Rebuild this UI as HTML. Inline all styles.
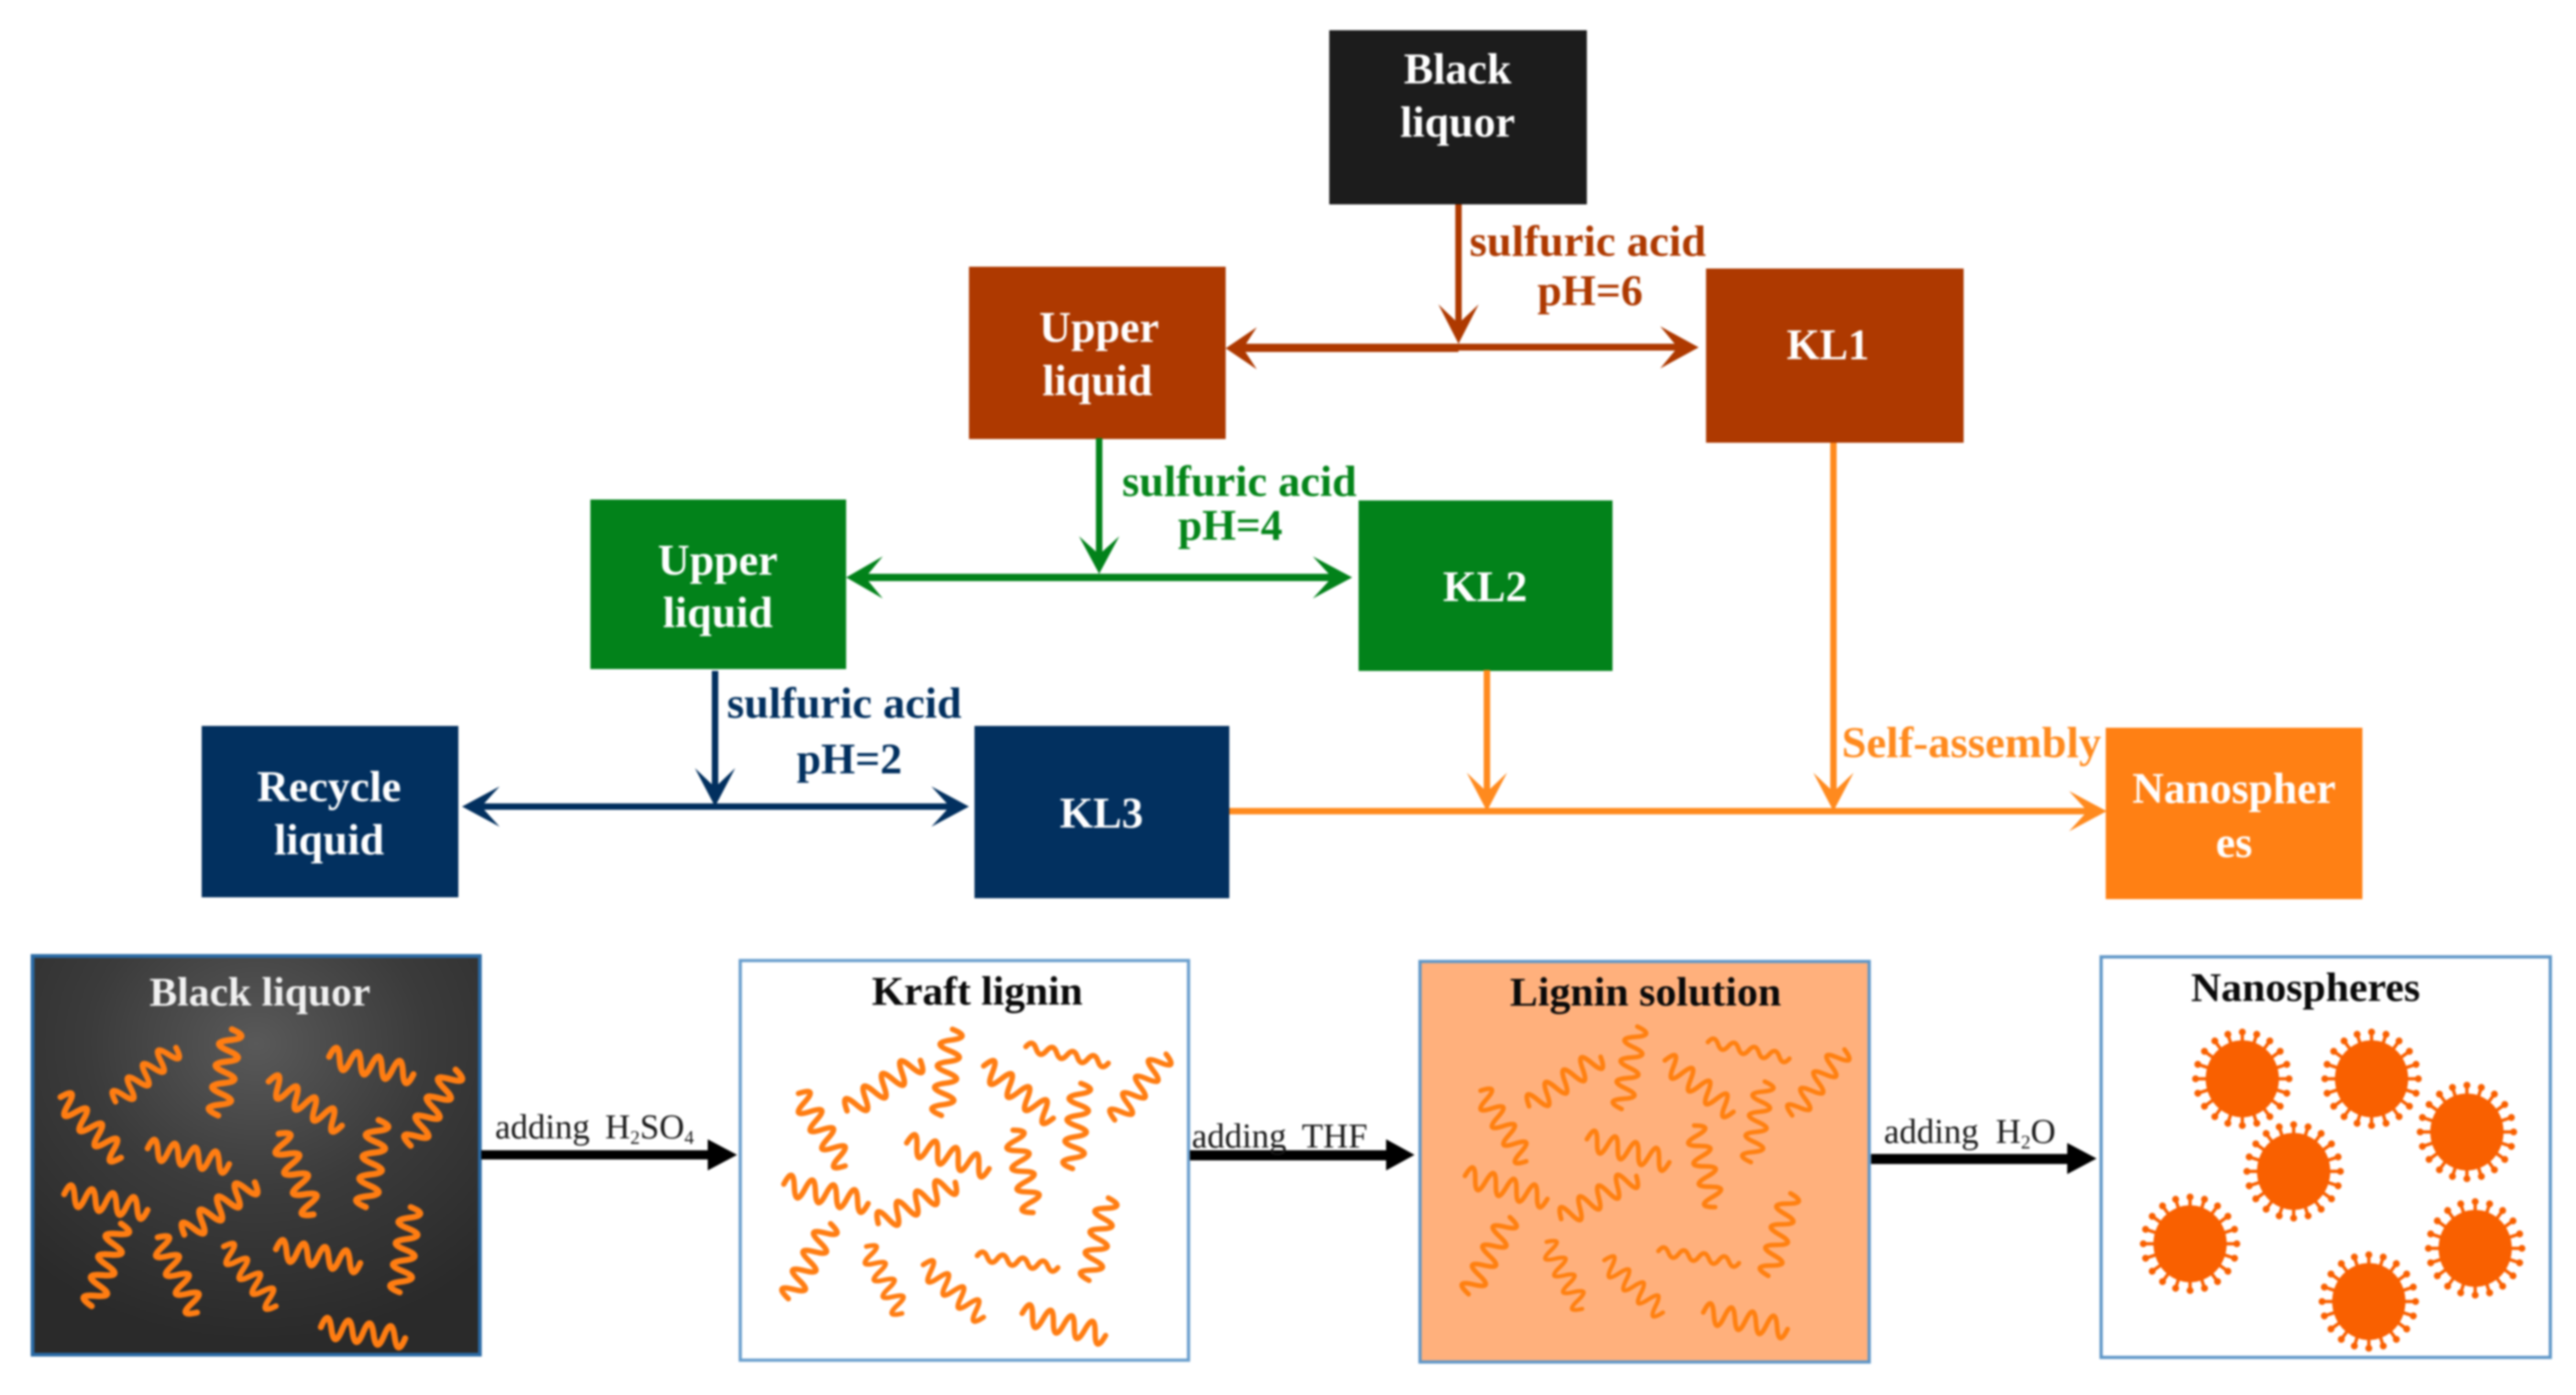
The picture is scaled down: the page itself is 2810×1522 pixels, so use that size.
<!DOCTYPE html>
<html><head><meta charset="utf-8"><style>
html,body{margin:0;padding:0;background:#fff;width:2810px;height:1522px;overflow:hidden}
svg{display:block;filter:blur(1.1px)}
text{font-family:"Liberation Serif",serif}
.b{font-weight:bold;font-size:48px}
.w{fill:#fff;text-anchor:middle}
.t{font-weight:bold;font-size:44px}
.r{font-size:38px;fill:#1a1a1a}
.s{font-size:21px;fill:#1a1a1a}
.sq{fill:none;stroke:#ff7d12;stroke-width:7;stroke-linecap:round;stroke-linejoin:round}
.sq2{fill:none;stroke:#ff7d12;stroke-width:6.2;stroke-linecap:round;stroke-linejoin:round}
.sq3{fill:none;stroke:#ff8010;stroke-width:5.4;stroke-linecap:round;stroke-linejoin:round}
</style></head><body>
<svg width="2810" height="1522" viewBox="0 0 2810 1522" xmlns="http://www.w3.org/2000/svg">
<defs>
<path id="z" d="M0 0Q6.2 -24 12.5 0T25 0T37.5 0T50 0T62.5 0T75 0T87.5 0T100 0"/>
<path id="f" d="M0 0Q6.2 -11 12.5 0T25 0T37.5 0T50 0T62.5 0T75 0T87.5 0T100 0"/>
<radialGradient id="dk" cx="50%" cy="22%" r="75%"><stop offset="0" stop-color="#595959"/><stop offset=".5" stop-color="#3b3b3b"/><stop offset="1" stop-color="#2a2a2a"/></radialGradient>
<g id="sp"><line x1="0" y1="-36" x2="0" y2="-50" stroke="#f96000" stroke-width="3.6"/><circle cy="-51" r="3.8" fill="#f96000"/></g>
<g id="v">
<ellipse rx="40" ry="42" fill="#f96000"/>
<use href="#sp"/><use href="#sp" transform="rotate(18)"/><use href="#sp" transform="rotate(36)"/><use href="#sp" transform="rotate(54)"/><use href="#sp" transform="rotate(72)"/><use href="#sp" transform="rotate(90)"/><use href="#sp" transform="rotate(108)"/><use href="#sp" transform="rotate(126)"/><use href="#sp" transform="rotate(144)"/><use href="#sp" transform="rotate(162)"/><use href="#sp" transform="rotate(180)"/><use href="#sp" transform="rotate(198)"/><use href="#sp" transform="rotate(216)"/><use href="#sp" transform="rotate(234)"/><use href="#sp" transform="rotate(252)"/><use href="#sp" transform="rotate(270)"/><use href="#sp" transform="rotate(288)"/><use href="#sp" transform="rotate(306)"/><use href="#sp" transform="rotate(324)"/><use href="#sp" transform="rotate(342)"/>
</g>
</defs>
<rect width="2810" height="1522" fill="#fff"/>

<!-- top boxes -->
<rect x="1450" y="33" width="281" height="190" fill="#1c1c1c"/>
<rect x="1057" y="291" width="280" height="188" fill="#ae3900"/>
<rect x="1861" y="293" width="281" height="190" fill="#ae3900"/>
<rect x="644" y="545" width="279" height="185" fill="#02821a"/>
<rect x="1482" y="546" width="277" height="186" fill="#02821a"/>
<rect x="220" y="792" width="280" height="187" fill="#02305f"/>
<rect x="1063" y="792" width="278" height="188" fill="#02305f"/>
<rect x="2297" y="794" width="280" height="187" fill="#ff8014"/>

<!-- brown arrows -->
<g fill="#ae3900" stroke="none">
<rect x="1587.500" y="223" width="7" height="135"/>
<polygon points="1591,375 1569,332 1591,353 1613,332"/>
<rect x="1345" y="375" width="246" height="9"/>
<rect x="1591" y="375" width="245" height="7.500"/>
<polygon points="1853,379 1811,356 1830,379 1811,402"/>
<polygon points="1337,380 1371,357 1356,380 1371,403"/>
</g>
<!-- green arrows -->
<g fill="#02821a" stroke="none">
<rect x="1195.500" y="478" width="7" height="130"/>
<polygon points="1199,626 1177,585 1199,605 1221,585"/>
<rect x="940" y="626" width="518" height="8"/>
<polygon points="1475,630 1432,607 1453,630 1432,653"/>
<polygon points="923,630 963,607 944,630 963,653"/>
</g>
<!-- navy arrows -->
<g fill="#02305f" stroke="none">
<rect x="776.500" y="732" width="7" height="130"/>
<polygon points="780,880 758,838 780,859 802,838"/>
<rect x="520" y="876.500" width="520" height="7"/>
<polygon points="1057,880 1016,858 1036,880 1016,902"/>
<polygon points="504,880 545,858 525,880 545,902"/>
</g>
<!-- orange arrows -->
<g fill="#ff8a1e" stroke="none">
<rect x="1996.500" y="483" width="7" height="385"/>
<polygon points="2000,885 1978,843 2000,864 2022,843"/>
<rect x="1618.500" y="731" width="7" height="137"/>
<polygon points="1622,885 1600,843 1622,864 1644,843"/>
<rect x="1341" y="881.500" width="940" height="7"/>
<polygon points="2298,885 2257,863 2277,885 2257,907"/>
</g>

<!-- top labels -->
<text class="b w" x="1590" y="91">Black</text>
<text class="b w" x="1590" y="149">liquor</text>
<text class="b w" x="1199" y="373">Upper</text>
<text class="b w" x="1197" y="431">liquid</text>
<text class="b w" x="783" y="627">Upper</text>
<text class="b w" x="783" y="684">liquid</text>
<text class="b w" x="359" y="874">Recycle</text>
<text class="b w" x="359" y="932">liquid</text>
<text class="b" fill="#fff" x="1949" y="392" textLength="90" lengthAdjust="spacingAndGlyphs">KL1</text>
<text class="b" fill="#fff" x="1574" y="656" textLength="92" lengthAdjust="spacingAndGlyphs">KL2</text>
<text class="b" fill="#fff" x="1156" y="903" textLength="91" lengthAdjust="spacingAndGlyphs">KL3</text>
<text class="b" fill="#fff" x="2326" y="876" textLength="222" lengthAdjust="spacingAndGlyphs">Nanospher</text>
<text class="b w" x="2437" y="935">es</text>

<text class="b" fill="#ae3900" x="1603" y="279" textLength="258" lengthAdjust="spacingAndGlyphs">sulfuric acid</text>
<text class="b" fill="#ae3900" x="1677" y="333" textLength="115" lengthAdjust="spacingAndGlyphs">pH=6</text>
<text class="b" fill="#05851a" x="1224" y="541" textLength="256" lengthAdjust="spacingAndGlyphs">sulfuric acid</text>
<text class="b" fill="#05851a" x="1285" y="589" textLength="114" lengthAdjust="spacingAndGlyphs">pH=4</text>
<text class="b" fill="#02305f" x="793" y="783" textLength="256" lengthAdjust="spacingAndGlyphs">sulfuric acid</text>
<text class="b" fill="#02305f" x="869" y="844" textLength="115" lengthAdjust="spacingAndGlyphs">pH=2</text>
<text class="b" fill="#ff8a1e" x="2009" y="826" textLength="283" lengthAdjust="spacingAndGlyphs">Self-assembly</text>

<!-- panels -->
<rect x="35.500" y="1043" width="488" height="435" fill="url(#dk)" stroke="#2a6aa5" stroke-width="4"/>
<rect x="807.500" y="1048" width="489" height="436" fill="#fff" stroke="#6a9fce" stroke-width="3.5"/>
<rect x="1549" y="1049" width="490" height="437" fill="#ffb07c" stroke="#5f97c8" stroke-width="3.5"/>
<rect x="2292" y="1044" width="490" height="437" fill="#fff" stroke="#5f97c8" stroke-width="3.5"/>

<text class="t" fill="#f0f0f0" x="163" y="1097" textLength="241" lengthAdjust="spacingAndGlyphs">Black liquor</text>
<text class="t" fill="#0a0a0a" x="951" y="1096" textLength="230" lengthAdjust="spacingAndGlyphs">Kraft lignin</text>
<text class="t" fill="#0a0a0a" x="1647" y="1097" textLength="296" lengthAdjust="spacingAndGlyphs">Lignin solution</text>
<text class="t" fill="#0a0a0a" x="2390" y="1092" textLength="250" lengthAdjust="spacingAndGlyphs">Nanospheres</text>

<!-- panel 1 squiggles -->
<g class="sq">
<use href="#z" transform="matrix(-.66 .59 -.59 -.66 192 1143)"/>
<use href="#z" transform="matrix(-.15 .94 -.94 -.15 253 1123)"/>
<use href="#z" transform="matrix(.92 .19 -.19 .92 359 1153)"/>
<use href="#z" transform="matrix(.66 .66 -.66 .66 66 1197)"/>
<use href="#z" transform="matrix(.8 .48 -.48 .8 293 1180)"/>
<use href="#z" transform="matrix(-.49 .83 -.83 -.49 497 1167)"/>
<use href="#z" transform="matrix(.89 .17 -.17 .89 161 1253)"/>
<use href="#z" transform="matrix(.38 .88 -.88 .38 304 1237)"/>
<use href="#z" transform="matrix(-.14 .95 -.95 -.14 413 1222)"/>
<use href="#z" transform="matrix(.91 .17 -.17 .91 70 1303)"/>
<use href="#z" transform="matrix(-.77 .57 -.57 -.77 278 1290)"/>
<use href="#z" transform="matrix(-.32 .9 -.9 -.32 132 1335)"/>
<use href="#z" transform="matrix(.43 .82 -.82 .43 172 1350)"/>
<use href="#z" transform="matrix(.57 .65 -.65 .57 244 1360)"/>
<use href="#z" transform="matrix(.92 .15 -.15 .92 301 1363)"/>
<use href="#z" transform="matrix(-.12 .93 -.93 -.12 448 1317)"/>
<use href="#z" transform="matrix(.92 .12 -.12 .92 350 1448)"/>
</g>
<!-- panel 2 squiggles -->
<g class="sq2">
<use href="#z" transform="matrix(-.8 .55 -.55 -.8 1004 1157)"/>
<use href="#z" transform="matrix(-.12 .94 -.94 -.12 1039 1123)"/>
<use href="#f" transform="matrix(.9 .18 -.18 .9 1119 1142)"/>
<use href="#z" transform="matrix(.51 .79 -.79 .51 871 1193)"/>
<use href="#z" transform="matrix(.76 .57 -.57 .76 1073 1163)"/>
<use href="#z" transform="matrix(-.56 .72 -.72 -.56 1272 1150)"/>
<use href="#z" transform="matrix(-.09 .93 -.93 -.09 1179 1182)"/>
<use href="#z" transform="matrix(.9 .28 -.28 .9 989 1247)"/>
<use href="#z" transform="matrix(.22 .9 -.9 .22 1105 1233)"/>
<use href="#z" transform="matrix(.92 .21 -.21 .92 855 1292)"/>
<use href="#z" transform="matrix(-.84 .45 -.45 -.84 1042 1290)"/>
<use href="#z" transform="matrix(-.46 .82 -.82 -.46 906 1335)"/>
<use href="#z" transform="matrix(.39 .73 -.73 .39 945 1360)"/>
<use href="#z" transform="matrix(.66 .57 -.57 .66 1007 1380)"/>
<use href="#f" transform="matrix(.88 .13 -.13 .88 1066 1370)"/>
<use href="#z" transform="matrix(-.21 .9 -.9 -.21 1209 1307)"/>
<use href="#z" transform="matrix(.91 .24 -.24 .91 1115 1433)"/>
</g>
<!-- panel 3 squiggles -->
<g class="sq3">
<use href="#z" transform="matrix(-.78 .54 -.54 -.78 1746 1153)"/>
<use href="#z" transform="matrix(-.17 .9 -.9 -.17 1786 1120)"/>
<use href="#f" transform="matrix(.89 .18 -.18 .89 1863 1137)"/>
<use href="#z" transform="matrix(.5 .77 -.77 .5 1615 1190)"/>
<use href="#z" transform="matrix(.75 .56 -.56 .75 1816 1157)"/>
<use href="#z" transform="matrix(-.57 .72 -.72 -.57 2012 1145)"/>
<use href="#z" transform="matrix(-.15 .88 -.88 -.15 1925 1180)"/>
<use href="#z" transform="matrix(.9 .25 -.25 .9 1731 1243)"/>
<use href="#z" transform="matrix(.23 .89 -.89 .23 1848 1228)"/>
<use href="#z" transform="matrix(.9 .25 -.25 .9 1598 1283)"/>
<use href="#z" transform="matrix(-.82 .47 -.47 -.82 1785 1283)"/>
<use href="#z" transform="matrix(-.45 .84 -.84 -.45 1647 1328)"/>
<use href="#z" transform="matrix(.39 .73 -.73 .39 1687 1355)"/>
<use href="#z" transform="matrix(.64 .57 -.57 .64 1750 1375)"/>
<use href="#f" transform="matrix(.88 .13 -.13 .88 1809 1365)"/>
<use href="#z" transform="matrix(-.24 .9 -.9 -.24 1953 1302)"/>
<use href="#z" transform="matrix(.92 .18 -.18 .92 1858 1432)"/>
</g>
<!-- nanospheres -->
<use href="#v" x="2446" y="1177"/>
<use href="#v" x="2587" y="1177"/>
<use href="#v" x="2691" y="1235"/>
<use href="#v" x="2502" y="1278"/>
<use href="#v" x="2389" y="1357"/>
<use href="#v" x="2700" y="1362"/>
<use href="#v" x="2584" y="1420"/>

<!-- black arrows -->
<rect x="525" y="1255" width="250" height="10" fill="#000"/>
<polygon points="772,1243 804,1260 772,1277" fill="#000"/>
<rect x="1298" y="1255" width="215" height="11" fill="#000"/>
<polygon points="1512,1243 1543,1260 1512,1277" fill="#000"/>
<rect x="2041" y="1259" width="215" height="11" fill="#000"/>
<polygon points="2255,1247 2287,1264 2255,1281" fill="#000"/>

<text class="r" x="540" y="1242">adding</text>
<text class="r" x="660" y="1242">H<tspan class="s" dy="6">2</tspan><tspan dy="-6">SO</tspan><tspan class="s" dy="6">4</tspan></text>
<text class="r" x="1300" y="1252">adding</text>
<text class="r" x="1420" y="1252">THF</text>
<text class="r" x="2055" y="1247">adding</text>
<text class="r" x="2177" y="1247">H<tspan class="s" dy="6">2</tspan><tspan dy="-6">O</tspan></text>
</svg>
</body></html>
